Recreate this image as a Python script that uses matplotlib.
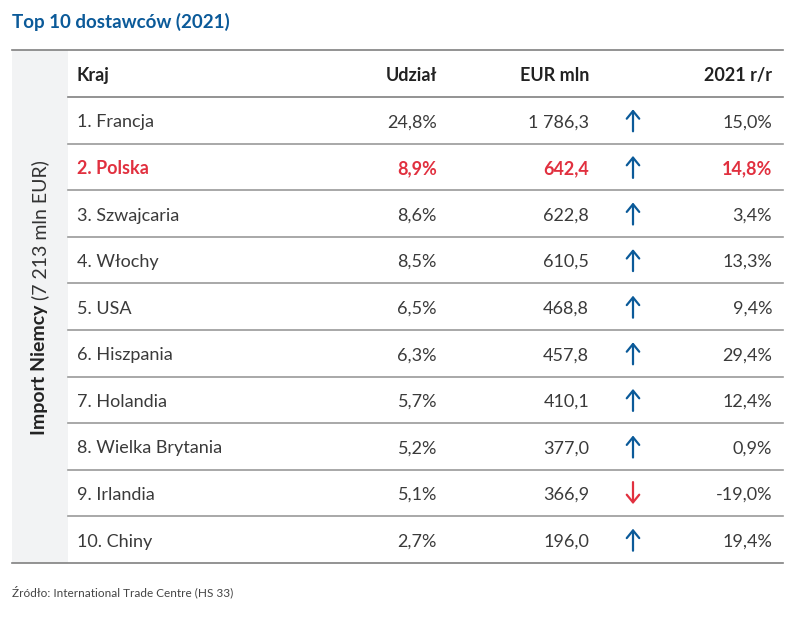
import matplotlib.pyplot as plt

# data
countries = ['Francja', 'Polska', 'Szwajcaria', 'Włochy', 'USA', 'Hiszpania',
             'Holandia', 'Wielka Brytania', 'Irlandia', 'Chiny']
share = [24.8, 8.9, 8.6, 8.5, 6.5, 6.3, 5.7, 5.2, 5.1, 2.7]
eur_mln = [1786.3, 642.4, 622.8, 610.5, 468.8, 457.8, 410.1, 377.0, 366.9, 196.0]
change = [15.0, 14.8, 3.4, 13.3, 9.4, 29.4, 12.4, 0.9, -19.0, 19.4]
headers = ['Kraj', 'Udział', 'EUR mln', '2021 r/r']
highlight = 'Polska'

BLUE = '#0b5a99'
RED = '#e1303f'
TXT = '#3a3a3a'
LINE = '#9a9a9a'
FONT = 'Lato'


def pl_num(v, pct=False):
    s = f'{v:,.1f}'.replace(',', ' ').replace('.', ',')
    return s + '%' if pct else s


fig = plt.figure(figsize=(8, 6.2), dpi=100)
ax = fig.add_axes([0, 0, 1, 1])
ax.set_xlim(0, 800)
ax.set_ylim(620, 0)
ax.axis('off')

# title
ax.text(12, 22, 'Top 10 dostawców (2021)', color=BLUE, fontsize=13.5,
        fontweight='bold', family=FONT, va='center', ha='left')

top, head_line, row_h = 50, 97, 46.6
bottom = head_line + row_h * len(countries)

# gray side panel
ax.fill_between([12, 68], top, bottom, color='#f2f3f4', lw=0)
ax.plot([12, 783], [top, top], color='#808080', lw=1.2)
ax.plot([12, 783], [bottom, bottom], color='#808080', lw=1.2)

# rotated label
ax.text(40, 305, 'Import Niemcy', rotation=90, fontsize=14, fontweight='bold',
        family=FONT, color='#222222', ha='center', va='top')
ax.text(40, 305, ' (7 213 mln EUR)', rotation=90, fontsize=14,
        family=FONT, color='#333333', ha='center', va='bottom')

# header
col_x = [77, 437, 589, 772]
col_ha = ['left', 'right', 'right', 'right']
dy = 2
hy = (top + head_line) / 2 + dy
for h, x, ha in zip(headers, col_x, col_ha):
    ax.text(x, hy, h, fontsize=13, fontweight='bold', family=FONT,
            color='#222222', ha=ha, va='center')
ax.plot([68, 783], [head_line, head_line], color='#808080', lw=1.2)

arrow_x = 633
for i, c in enumerate(countries):
    yc = head_line + row_h * (i + 0.5)
    is_hl = c == highlight
    col = RED if is_hl else TXT
    fw = 'bold' if is_hl else 'normal'
    vals = [f'{i + 1}. {c}', pl_num(share[i], True), pl_num(eur_mln[i]),
            pl_num(change[i], True)]
    for v, x, ha in zip(vals, col_x, col_ha):
        ax.text(x, yc + dy, v, fontsize=13, fontweight=fw, family=FONT,
                color=col, ha=ha, va='center')
    up = change[i] >= 0
    acol = BLUE if up else RED
    y0, y1 = (yc + 11, yc - 11) if up else (yc - 11, yc + 11)
    ax.annotate('', xy=(arrow_x, y1), xytext=(arrow_x, y0),
                arrowprops=dict(arrowstyle='->,head_length=0.55,head_width=0.45',
                                color=acol, lw=1.6, shrinkA=0, shrinkB=0))
    if i < len(countries) - 1:
        yl = head_line + row_h * (i + 1)
        ax.plot([68, 783], [yl, yl], color=LINE, lw=1.2)

# source
ax.text(12, 592, 'Źródło: International Trade Centre (HS 33)', fontsize=8.5,
        family=FONT, color='#444444', ha='left', va='center')

fig.savefig('out.png', dpi=100)
